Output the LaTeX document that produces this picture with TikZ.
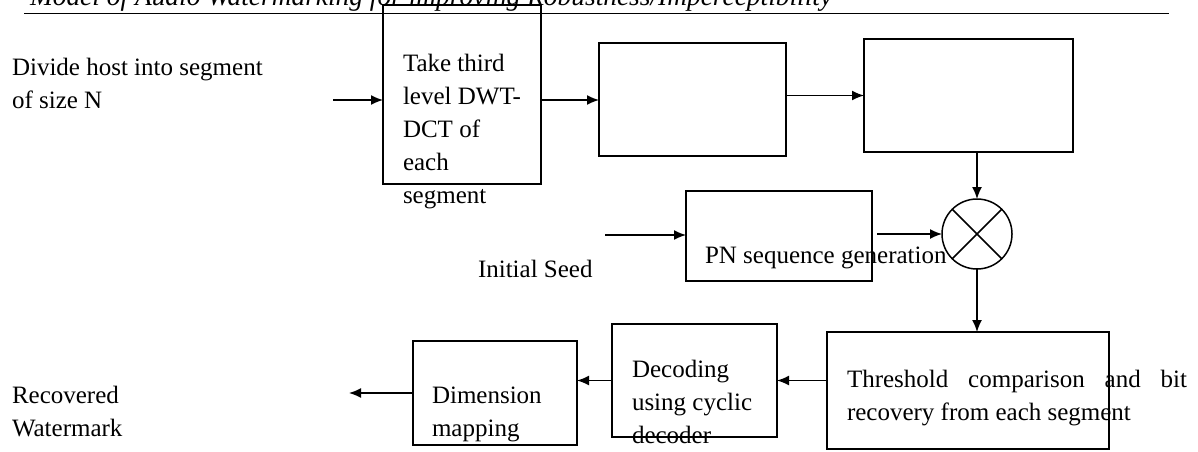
\documentclass[tikz,border=0pt]{standalone}
\usepackage{fontspec}
\setmainfont{Liberation Serif}
\usetikzlibrary{arrows.meta}
\begin{document}
\begin{tikzpicture}[x=0.5pt,y=-0.5pt,
  box/.style={draw,line width=0.75pt,inner sep=0pt,outer sep=0pt},
  lbl/.style={anchor=base west,inner sep=0pt,outer sep=0pt,align=left,font=\fontsize{12.5}{16.5}\selectfont},
  arr/.style={line width=0.75pt,-{Latex[length=6pt,width=5pt]}}]
\clip (0,0) rectangle (1198,451);
\useasboundingbox (0,0) rectangle (1198,451);
% header
\node[lbl,font=\fontsize{13.7}{16}\selectfont\itshape] (hdr) at (30,5) {Model of Audio Watermarking for improving Robustness/Imperceptibility};
\draw[line width=0.5pt] (24,13) coordinate (rl) -- (1169,13) coordinate (rr);
% boxes
\node[box,minimum width=79pt,minimum height=89.5pt] (dwt) at (462,94.5) {};
\node[box,minimum width=93.5pt,minimum height=56.5pt] (b2) at (692.5,99.5) {};
\node[box,minimum width=104.5pt,minimum height=56.5pt] (b3) at (968.5,95.5) {};
\node[box,minimum width=93pt,minimum height=45pt] (pn) at (779,236) {};
\node[box,circle,minimum size=35pt] (mult) at (977,234) {};
\draw[line width=0.75pt] (mult.north west) -- (mult.south east) (mult.north east) -- (mult.south west);
\node[box,minimum width=141pt,minimum height=58.5pt] (thr) at (968,390.5) {};
\node[box,minimum width=82.5pt,minimum height=56.5pt] (dec) at (694.5,380.5) {};
\node[box,minimum width=82pt,minimum height=52pt] (dim) at (495,393) {};
% texts (anchor = baseline of last line)
\node[lbl] (tdiv) at (12,108) {Divide host into segment\\of size N};
\node[lbl] (tdwt) at (403,203) {Take third\\level DWT-\\DCT of\\each\\segment};
\node[lbl] (tseed) at (478,277) {Initial Seed};
\node[lbl] (tpn) at (705,263) {PN sequence generation};
\node[lbl] (tthr) at (847,420) {\makebox[170pt][s]{Threshold comparison and bit}\\recovery from each segment};
\node[lbl] (tdec) at (632,443) {Decoding\\using cyclic\\decoder};
\node[lbl] (tdim) at (432,436) {Dimension\\mapping};
\node[lbl] (trec) at (12,436) {Recovered\\Watermark};
% free ends
\coordinate (in1) at (333,100);
\coordinate (seedin) at (605,235);
\coordinate (out) at (349,396);
% connectors
\draw[arr] (in1) -- (in1 -| dwt.west);
\draw[arr] (dwt.east |- in1) -- (b2.west |- in1);
\draw[arr] (b2.east |- b3.west) -- (b3.west);
\draw[arr] (mult.north |- b3.south) -- (mult.north);
\draw[arr] (seedin) -- (seedin -| pn.west);
\draw[arr] ([xshift=2.5pt]pn.east |- mult.west) -- (mult.west);
\draw[arr] (mult.south) -- (mult.south |- thr.north);
\draw[arr] (thr.west |- dec.east) -- (dec.east);
\draw[arr] (dec.west) -- (dec.west -| dim.east);
\draw[arr] (dim.west) -- (out |- dim.west);
\end{tikzpicture}
\end{document}
